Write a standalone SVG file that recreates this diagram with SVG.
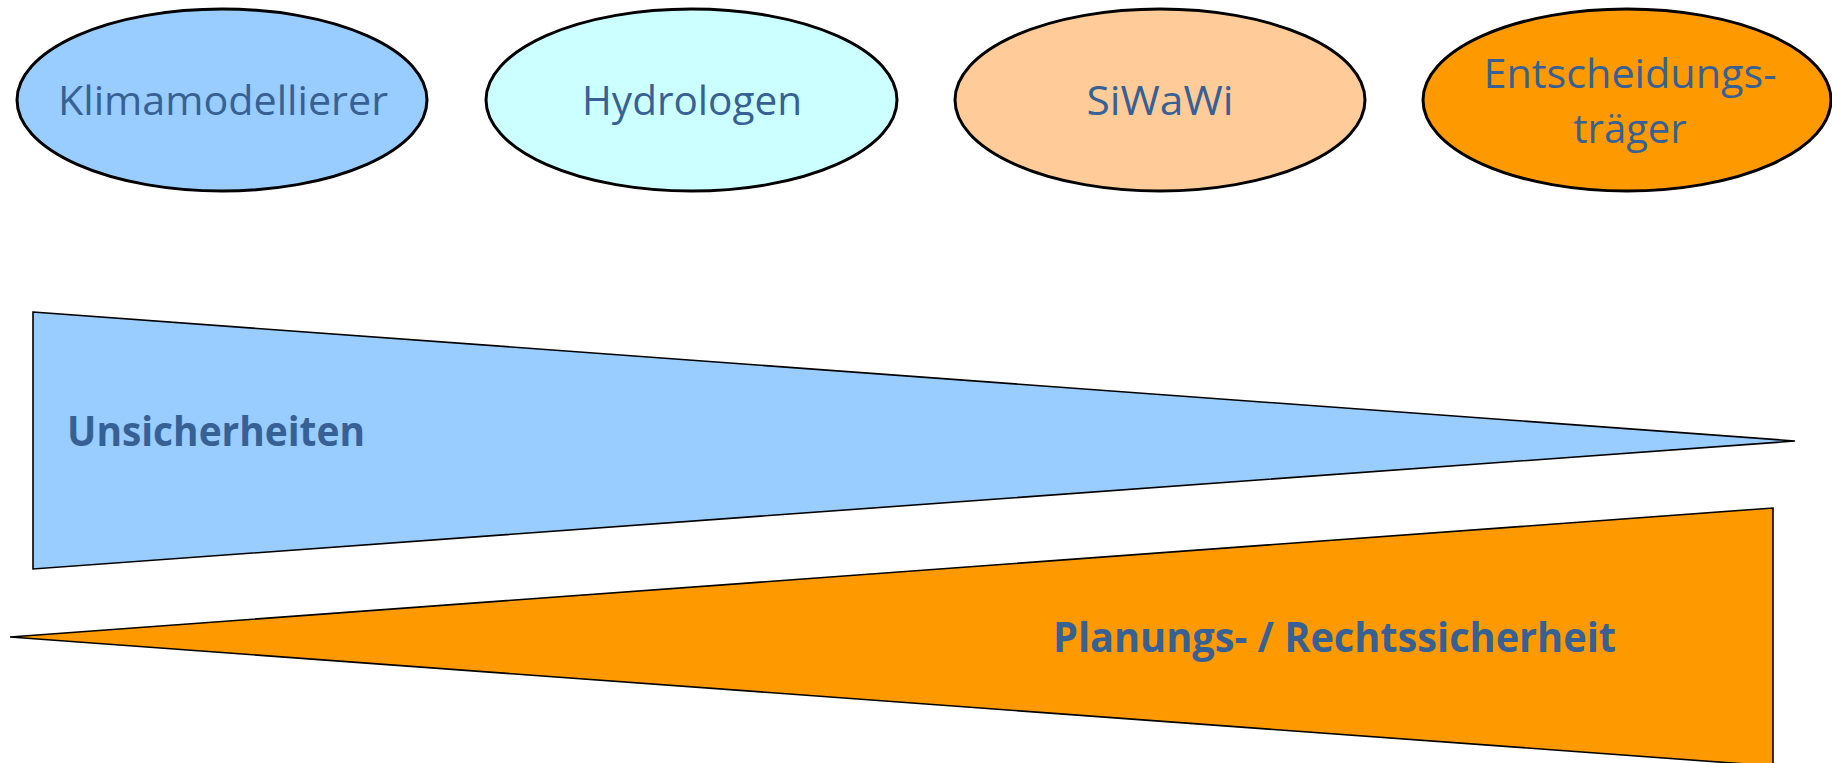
<svg xmlns="http://www.w3.org/2000/svg" width="1832" height="763" viewBox="0 0 1832 763">
<style>
.ell{stroke:#000;stroke-width:3}
.tri{stroke:#000;stroke-width:1.6;stroke-linejoin:miter}
.lbl{font-family:"Open Sans","Liberation Sans",sans-serif;font-size:40px;fill:#376194;text-anchor:middle}
.big{font-family:"Open Sans","Liberation Sans",sans-serif;font-size:41px;font-weight:bold;fill:#376194}
</style>
<rect width="1832" height="763" fill="#fff"/>
<g id="klimamodellierer">
<ellipse class="ell" cx="222" cy="100" rx="205" ry="91" fill="#99CCFF"/>
<text class="lbl" x="223" y="115" textLength="330" lengthAdjust="spacingAndGlyphs">Klimamodellierer</text>
</g>
<g id="hydrologen">
<ellipse class="ell" cx="691.5" cy="100" rx="205.5" ry="91" fill="#CCFFFF"/>
<text class="lbl" x="692" y="115" textLength="220" lengthAdjust="spacingAndGlyphs">Hydrologen</text>
</g>
<g id="siwawi">
<ellipse class="ell" cx="1160" cy="100" rx="205" ry="91" fill="#FFCC99"/>
<text class="lbl" x="1160" y="115" textLength="147" lengthAdjust="spacingAndGlyphs">SiWaWi</text>
</g>
<g id="entscheidungstraeger">
<ellipse class="ell" cx="1627" cy="100" rx="204" ry="91" fill="#FF9900"/>
<text class="lbl" x="1630" y="88" textLength="293" lengthAdjust="spacingAndGlyphs">Entscheidungs-</text>
<text class="lbl" x="1630" y="143">träger</text>
</g>
<g id="unsicherheiten">
<polygon class="tri" points="33,312 1795,441 33,569" fill="#99CCFF"/>
<text class="big" x="67" y="446" textLength="298" lengthAdjust="spacingAndGlyphs">Unsicherheiten</text>
</g>
<g id="planungssicherheit">
<polygon class="tri" points="10,637 1773,508 1773,766" fill="#FF9900"/>
<text class="big" x="1053" y="652" textLength="563" lengthAdjust="spacingAndGlyphs">Planungs- / Rechtssicherheit</text>
</g>
<g id="connectors"></g>
</svg>
